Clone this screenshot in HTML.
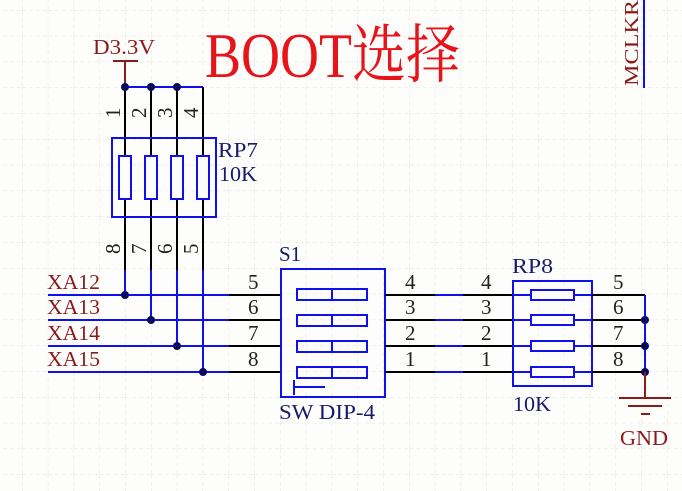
<!DOCTYPE html>
<html><head><meta charset="utf-8"><style>
html,body{margin:0;padding:0;background:#fdfdfb;}
svg{display:block;}
text{font-family:"Liberation Serif","Noto Serif CJK SC",serif;}
</style></head><body>
<svg width="682" height="491" viewBox="0 0 682 491" xmlns="http://www.w3.org/2000/svg">
<defs>
<pattern id="g" x="22" y="10" width="25.8" height="25.8" patternUnits="userSpaceOnUse">
<path d="M0 0V25.8M0 0H25.8" stroke="#e4e4dc" stroke-width="1" stroke-dasharray="4 3" fill="none"/>
</pattern>
</defs>
<rect width="682" height="491" fill="#fdfdfb"/>
<rect width="682" height="491" fill="url(#g)"/>

<!-- title -->
<text x="205" y="77" font-size="64" fill="#e8141c" textLength="255" lengthAdjust="spacingAndGlyphs">BOOT选择</text>

<!-- MCLKR -->
<line x1="644" y1="0" x2="644" y2="88" stroke="#1010ee" stroke-width="2"/>
<text transform="translate(638,86) rotate(-90)" font-size="20" fill="#8b1a1a" font-family="Liberation Sans, sans-serif" textLength="86" lengthAdjust="spacingAndGlyphs">MCLKR</text>

<!-- D3.3V -->
<text x="93" y="54" font-size="21" fill="#8b1a1a" textLength="62" lengthAdjust="spacingAndGlyphs">D3.3V</text>
<line x1="113" y1="61" x2="138" y2="61" stroke="#8b1a1a" stroke-width="2"/>
<line x1="125" y1="61" x2="125" y2="87" stroke="#8b1a1a" stroke-width="2"/>
<line x1="125" y1="87" x2="203" y2="87" stroke="#1010ee" stroke-width="2"/>

<!-- RP7 verticals -->
<g stroke="#000" stroke-width="2">
<line x1="125" y1="87" x2="125" y2="270"/><line x1="151" y1="87" x2="151" y2="270"/>
<line x1="177" y1="87" x2="177" y2="270"/><line x1="203" y1="87" x2="203" y2="270"/>
</g>
<g stroke="#1010ee" stroke-width="2">
<line x1="125" y1="270" x2="125" y2="295"/><line x1="151" y1="270" x2="151" y2="320"/>
<line x1="177" y1="270" x2="177" y2="346"/><line x1="203" y1="270" x2="203" y2="372"/>
</g>
<g fill="#0a0a5a"><circle cx="125" cy="87" r="4"/><circle cx="151" cy="87" r="4"/><circle cx="177" cy="87" r="4"/></g>
<rect x="112" y="138" width="104" height="79" fill="none" stroke="#1010ee" stroke-width="2"/>
<g fill="#fdfdfb" stroke="#1010ee" stroke-width="2">
<rect x="119" y="156" width="12" height="43"/><rect x="145" y="156" width="12" height="43"/>
<rect x="171" y="156" width="12" height="43"/><rect x="197" y="156" width="12" height="43"/>
</g>
<g font-size="21" fill="#222">
<text transform="translate(120,118) rotate(-90)">1</text><text transform="translate(146,118) rotate(-90)">2</text>
<text transform="translate(172,118) rotate(-90)">3</text><text transform="translate(198,118) rotate(-90)">4</text>
<text transform="translate(120,254) rotate(-90)">8</text><text transform="translate(146,254) rotate(-90)">7</text>
<text transform="translate(172,254) rotate(-90)">6</text><text transform="translate(198,254) rotate(-90)">5</text>
</g>
<text x="218" y="157" font-size="21" fill="#1a1a6a" textLength="40" lengthAdjust="spacingAndGlyphs">RP7</text>
<text x="219" y="181" font-size="21" fill="#1a1a6a" textLength="38" lengthAdjust="spacingAndGlyphs">10K</text>

<!-- left horizontal wires -->
<g stroke="#1010ee" stroke-width="2">
<line x1="48" y1="295" x2="229" y2="295"/><line x1="48" y1="320" x2="229" y2="320"/>
<line x1="48" y1="346" x2="229" y2="346"/><line x1="48" y1="372" x2="229" y2="372"/>
</g>
<g stroke="#000" stroke-width="2">
<line x1="229" y1="295" x2="280" y2="295"/><line x1="229" y1="320" x2="280" y2="320"/>
<line x1="229" y1="346" x2="280" y2="346"/><line x1="229" y1="372" x2="280" y2="372"/>
</g>
<g fill="#0a0a5a"><circle cx="125" cy="295" r="4"/><circle cx="151" cy="320" r="4"/><circle cx="177" cy="346" r="4"/><circle cx="203" cy="372" r="4"/></g>
<g font-size="21" fill="#8b1a1a">
<text x="47" y="289" textLength="53" lengthAdjust="spacingAndGlyphs">XA12</text>
<text x="47" y="314" textLength="53" lengthAdjust="spacingAndGlyphs">XA13</text>
<text x="47" y="340" textLength="53" lengthAdjust="spacingAndGlyphs">XA14</text>
<text x="47" y="366" textLength="53" lengthAdjust="spacingAndGlyphs">XA15</text>
</g>
<g font-size="21" fill="#222">
<text x="248" y="289">5</text><text x="248" y="314">6</text><text x="248" y="340">7</text><text x="248" y="366">8</text>
</g>

<!-- S1 -->
<text x="279" y="261" font-size="21" fill="#1a1a6a">S1</text>
<rect x="281" y="269" width="104" height="128" fill="none" stroke="#1010ee" stroke-width="2"/>
<g fill="none" stroke="#1010ee" stroke-width="2">
<rect x="297" y="289" width="70" height="11"/><line x1="332" y1="289" x2="332" y2="300"/>
<rect x="297" y="315" width="70" height="11"/><line x1="332" y1="315" x2="332" y2="326"/>
<rect x="297" y="341" width="70" height="11"/><line x1="332" y1="341" x2="332" y2="352"/>
<rect x="297" y="367" width="70" height="11"/><line x1="332" y1="367" x2="332" y2="378"/>
<line x1="294" y1="380" x2="294" y2="395"/><line x1="294" y1="387" x2="325" y2="387"/>
</g>
<text x="279" y="419" font-size="21" fill="#1a1a6a" textLength="96" lengthAdjust="spacingAndGlyphs">SW DIP-4</text>

<!-- middle wires -->
<g stroke="#000" stroke-width="2">
<line x1="385" y1="295" x2="435" y2="295"/><line x1="385" y1="320" x2="435" y2="320"/>
<line x1="385" y1="346" x2="435" y2="346"/><line x1="385" y1="372" x2="435" y2="372"/>
<line x1="463" y1="295" x2="512" y2="295"/><line x1="463" y1="320" x2="512" y2="320"/>
<line x1="463" y1="346" x2="512" y2="346"/><line x1="463" y1="372" x2="512" y2="372"/>
</g>
<g stroke="#1010ee" stroke-width="2">
<line x1="435" y1="295" x2="463" y2="295"/><line x1="435" y1="320" x2="463" y2="320"/>
<line x1="435" y1="346" x2="463" y2="346"/><line x1="435" y1="372" x2="463" y2="372"/>
</g>
<g font-size="21" fill="#222">
<text x="405" y="289">4</text><text x="405" y="314">3</text><text x="405" y="340">2</text><text x="405" y="366">1</text>
<text x="481" y="289">4</text><text x="481" y="314">3</text><text x="481" y="340">2</text><text x="481" y="366">1</text>
</g>

<!-- RP8 -->
<text x="512" y="273" font-size="21" fill="#1a1a6a" textLength="41" lengthAdjust="spacingAndGlyphs">RP8</text>
<rect x="513" y="281" width="79" height="105" fill="none" stroke="#1010ee" stroke-width="2"/>
<g stroke="#000" stroke-width="2">
<line x1="592" y1="295" x2="645" y2="295"/><line x1="592" y1="320" x2="645" y2="320"/>
<line x1="592" y1="346" x2="645" y2="346"/><line x1="592" y1="372" x2="645" y2="372"/>
</g>
<g fill="#fdfdfb" stroke="#1010ee" stroke-width="2">
<line x1="513" y1="295" x2="592" y2="295"/><line x1="513" y1="320" x2="592" y2="320"/>
<line x1="513" y1="346" x2="592" y2="346"/><line x1="513" y1="372" x2="592" y2="372"/>
<rect x="531" y="290" width="43" height="10"/><rect x="531" y="315" width="43" height="10"/>
<rect x="531" y="341" width="43" height="10"/><rect x="531" y="367" width="43" height="10"/>
</g>
<text x="513" y="411" font-size="21" fill="#1a1a6a" textLength="38" lengthAdjust="spacingAndGlyphs">10K</text>
<g font-size="21" fill="#222">
<text x="613" y="289">5</text><text x="613" y="314">6</text><text x="613" y="340">7</text><text x="613" y="366">8</text>
</g>
<line x1="645" y1="295" x2="645" y2="372" stroke="#1010ee" stroke-width="2"/>
<g fill="#0a0a5a"><circle cx="645" cy="320" r="4"/><circle cx="645" cy="346" r="4"/><circle cx="645" cy="372" r="4"/></g>

<!-- GND -->
<g stroke="#8b1a1a" stroke-width="2">
<line x1="645" y1="372" x2="645" y2="397"/>
<line x1="619" y1="398" x2="671" y2="398"/>
<line x1="628" y1="406" x2="662" y2="406"/>
<line x1="641" y1="414" x2="650" y2="414"/>
</g>
<text x="620" y="445" font-size="21" fill="#8b1a1a" textLength="48" lengthAdjust="spacingAndGlyphs">GND</text>
</svg>
</body></html>
